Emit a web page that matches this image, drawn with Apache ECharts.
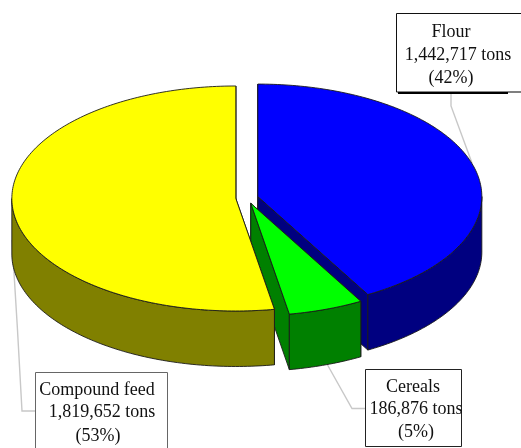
<!DOCTYPE html>
<html>
<head>
<meta charset="utf-8">
<style>html,body{margin:0;padding:0;background:#fff}#c{width:521px;height:448px}</style>
<script src="https://cdn.jsdelivr.net/npm/echarts@6/dist/echarts.min.js"></script>
</head>
<body>
<div id="c"></div>
<script>
const categories = ['Flour', 'Cereals', 'Compound feed'];
const tons = [1442717, 186876, 1819652];
const percents = ['42%', '5%', '53%'];
const topColors = ['#0000ff', '#00ff00', '#ffff00'];
const sideColors = ['#000080', '#008000', '#808000'];

const FONT = '"Liberation Serif","Times New Roman",serif';
const cx = 247, cy = 198, rx = 224, ry = 112.5, depth = 55.5, explode = 11.2, tilt = ry / rx;
const total = tons.reduce((a, b) => a + b, 0);
const rad = d => d * Math.PI / 180;
const EDGE = '#1a1a1a';

function renderItem(params, api) {
  const i = params.dataIndex;
  let start = 0;
  for (let k = 0; k < i; k++) start += tons[k] / total * 360;
  const end = start + api.value(0) / total * 360;
  const mid = rad((start + end) / 2);
  const ox = cx + explode * Math.sin(mid), oy = cy - explode * Math.cos(mid) * tilt;
  const pt = (deg, d) => [ox + rx * Math.sin(rad(deg)), oy - ry * Math.cos(rad(deg)) + (d || 0)];
  const arc = (a, b, d) => {
    const out = [], n = Math.max(2, Math.ceil(Math.abs(b - a)));
    for (let s = 0; s <= n; s++) out.push(pt(a + (b - a) * s / n, d));
    return out;
  };
  const poly = (points, fill) => ({
    type: 'polygon', shape: { points },
    style: { fill, stroke: EDGE, lineWidth: 0.9, lineJoin: 'round' }
  });
  const children = [];
  const apex = [ox, oy], apexLow = [ox, oy + depth];
  [start, end].forEach(a => {
    const p = pt(a), q = pt(a, depth);
    children.push(poly([apex, p, q, apexLow], sideColors[i]));
  });
  const a = Math.max(start, 90), b = Math.min(end, 270);
  if (b > a) children.push(poly(arc(a, b, 0).concat(arc(b, a, depth)), sideColors[i]));
  children.push(poly([apex].concat(arc(start, end, 0)), topColors[i]));
  return { type: 'group', children };
}

const labelText = i => [categories[i], tons[i].toLocaleString('en-US') + ' tons', '(' + percents[i] + ')'];
const textEl = (str, x, y) => ({
  type: 'text', z: 5, x, y,
  style: { text: str, font: '18px ' + FONT, fill: '#111', textAlign: 'center', textVerticalAlign: 'middle' }
});
const line = (points, stroke, lineWidth) => ({
  type: 'polyline', z: 1, shape: { points }, style: { stroke, lineWidth, fill: 'none' }
});
const box = (x, y, w, h, stroke) => ({
  type: 'rect', z: 3, shape: { x, y, width: w, height: h }, style: { fill: '#fff', stroke, lineWidth: 1 }
});
const textAt = (i, xs, ys) => labelText(i).map((s, k) => textEl(s, xs[k], ys[k]));

const graphics = [
  line([[472, 163], [451, 106], [451, 92]], '#c8c8c8', 1.4),
  line([[12, 240], [17.5, 330], [22, 411], [36, 411]], '#c8c8c8', 1.4),
  line([[327, 364], [352, 408.5], [366, 408.5]], '#c8c8c8', 1.4),
  box(396.5, 13.5, 140, 78.5, '#111'),
  { type: 'rect', z: 4, shape: { x: 398, y: 92, width: 110, height: 2 }, style: { fill: '#000' } },
  { type: 'rect', z: 4, shape: { x: 508, y: 91.5, width: 13, height: 1 }, style: { fill: '#777' } },
  box(35.5, 372.5, 132, 90, '#666'),
  box(365.5, 369.5, 96, 77, '#222'),
  ...textAt(0, [451, 458, 451], [32, 55, 78]),
  ...textAt(2, [97, 102, 98], [390, 412, 436]),
  ...textAt(1, [413, 416, 416], [387, 409, 432])
];

const chart = echarts.init(document.getElementById('c'), null, { renderer: 'canvas' });
chart.setOption({
  animation: false,
  backgroundColor: '#ffffff',
  series: [{
    type: 'custom',
    coordinateSystem: 'none',
    renderItem,
    silent: true,
    z: 2,
    data: tons.map((v, i) => ({ name: categories[i], value: [v] }))
  }],
  graphic: { elements: graphics }
});
</script>
</body>
</html>
